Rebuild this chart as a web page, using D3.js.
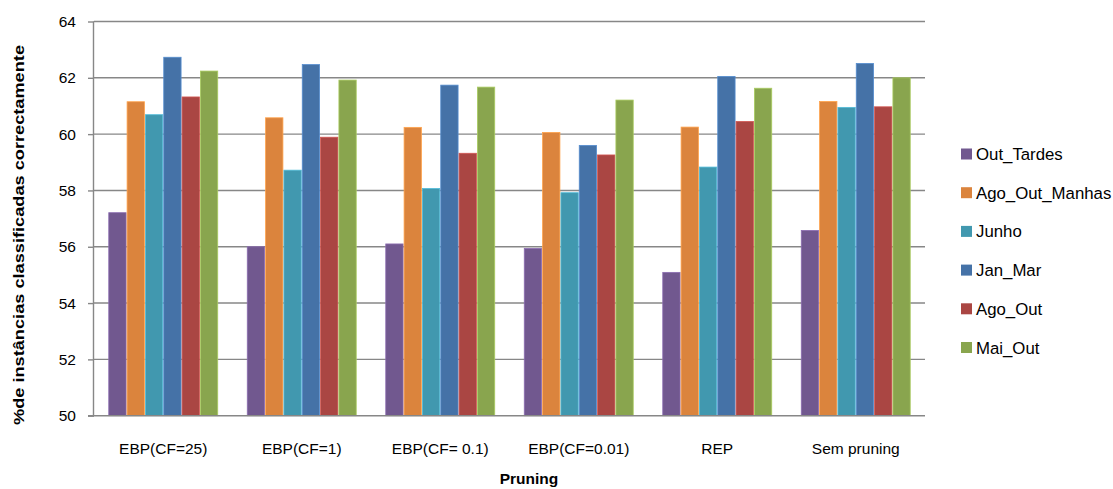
<!DOCTYPE html>
<html><head><meta charset="utf-8">
<script src="https://cdn.jsdelivr.net/npm/d3@7"></script>
<style>
body{margin:0;background:#fff;}
text{font-family:"Liberation Sans",Arial,sans-serif;fill:#000;}
</style></head>
<body><svg id="c" width="1113" height="489"></svg>
<script>
const categories = ["EBP(CF=25)","EBP(CF=1)","EBP(CF= 0.1)","EBP(CF=0.01)","REP","Sem pruning"];
const seriesNames = ["Out_Tardes","Ago_Out_Manhas","Junho","Jan_Mar","Ago_Out","Mai_Out"];
const outTardes    = [57.21, 56.00, 56.10, 55.94, 55.09, 56.58];
const agoOutManhas = [61.15, 60.58, 60.24, 60.06, 60.25, 61.16];
const junho        = [60.69, 58.72, 58.07, 57.92, 58.83, 60.95];
const janMar       = [62.73, 62.47, 61.74, 59.60, 62.05, 62.51];
const agoOut       = [61.32, 59.89, 59.32, 59.26, 60.45, 60.97];
const maiOut       = [62.24, 61.92, 61.67, 61.21, 61.63, 62.00];
const yTicks = [50,52,54,56,58,60,62,64];
const colors = ["#71588F","#DB843D","#4198AF","#4572A7","#AA4643","#89A54E"];
const seriesValues = [outTardes, agoOutManhas, junho, janMar, agoOut, maiOut];

const svg = d3.select("#c");
const L = 94, R = 925, T = 21.5, B = 415.7;
const x = d3.scaleBand().domain(categories).range([L,R]).paddingInner(0.206).paddingOuter(0.103);
const xs = d3.scaleBand().domain(seriesNames).range([0,x.bandwidth()]);
const y = d3.scaleLinear().domain([50,64]).range([B,T]);

// gridlines
svg.append("g").selectAll("line").data(yTicks.filter(t=>t>50)).join("line")
  .attr("x1",L).attr("x2",R).attr("y1",d=>y(d)).attr("y2",d=>y(d))
  .attr("stroke","#878787").attr("stroke-width",1.4);

// bars
const groups = svg.append("g").selectAll("g").data(categories).join("g")
  .attr("transform",c=>`translate(${x(c)},0)`);
groups.selectAll("rect").data((c,ci)=>seriesNames.map((s,si)=>({s,si,v:seriesValues[si][ci]}))).join("rect")
  .attr("x",d=>xs(d.s)+0.5).attr("width",xs.bandwidth()-1)
  .attr("y",d=>y(d.v)).attr("height",d=>B-y(d.v))
  .attr("fill",d=>colors[d.si])
  .attr("stroke",d=>d3.color(colors[d.si]).brighter(0.6)).attr("stroke-width",0.8);

// y axis
const ya = svg.append("g").attr("transform",`translate(${L},0)`)
  .call(d3.axisLeft(y).tickValues(yTicks).tickSize(6).tickPadding(12).tickFormat(d3.format("d")));
ya.select(".domain").attr("stroke","#878787").attr("stroke-width",1.4).attr("d",`M-0.5,${T}V${B}`);
ya.selectAll(".tick line").attr("stroke","#878787").attr("stroke-width",1.4);
ya.selectAll(".tick text").attr("font-size",15.5).attr("font-family","Liberation Sans");

// x axis
const xa = svg.append("g").attr("transform",`translate(0,${B})`)
  .call(d3.axisBottom(x).tickSize(0).tickPadding(27));
xa.select(".domain").attr("stroke","#878787").attr("stroke-width",1.6).attr("d",`M${L-6},0H${R}`);
xa.selectAll(".tick text").attr("font-size",15.5).attr("font-family","Liberation Sans");

// axis titles
svg.append("text").attr("x",529).attr("y",484).attr("text-anchor","middle")
  .attr("font-size",15.5).attr("font-weight","bold").text("Pruning");
svg.append("text").attr("transform","translate(24,235) rotate(-90)").attr("text-anchor","middle")
  .attr("font-size",15).attr("font-weight","bold")
  .attr("textLength",380).attr("lengthAdjust","spacingAndGlyphs")
  .text("%de instâncias classificadas correctamente");

// legend
const lg = svg.append("g").selectAll("g").data(seriesNames).join("g")
  .attr("transform",(d,i)=>`translate(961,${154+i*38.7})`);
lg.append("rect").attr("x",0).attr("y",-5.5).attr("width",11).attr("height",11).attr("fill",(d,i)=>colors[i]);
lg.append("text").attr("x",15).attr("y",6).attr("font-size",16.8).text(d=>d);
</script></body></html>
